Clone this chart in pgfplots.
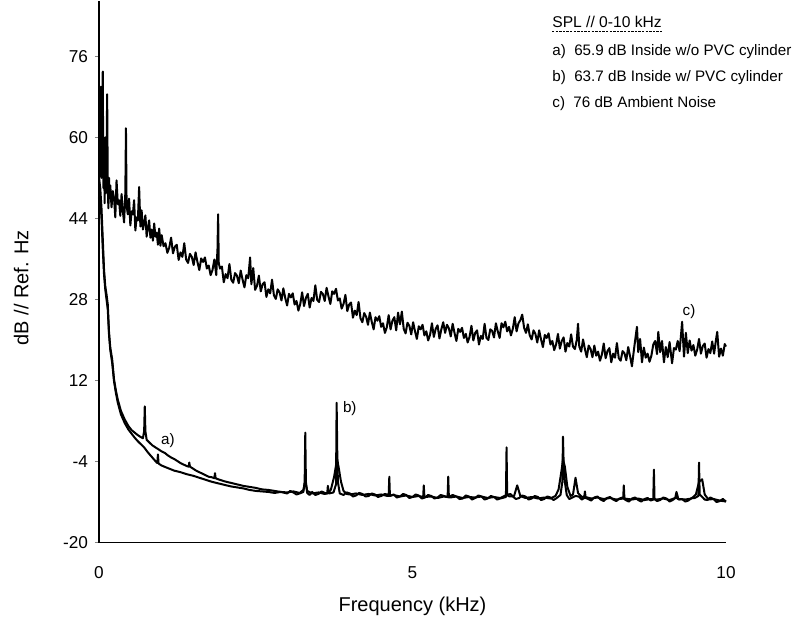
\documentclass[border=0pt]{standalone}
\usepackage{fontspec}
\setmainfont{Liberation Sans}
\usepackage{pgfplots}
\pgfplotsset{compat=1.18}
\begin{document}
\begin{tikzpicture}
\begin{axis}[
  name=ax,
  scale only axis,
  width=313.5pt, height=271pt,
  xmin=0, xmax=10, ymin=-20, ymax=87,
  axis x line*=bottom, axis y line*=left,
  axis line style={line width=0.6pt},
  xtick={0,5,10}, ytick={-20,-4,12,28,44,60,76},
  tick align=outside, major tick length=2pt,
  xtick style={draw=none},
  tick label style={font=\fontsize{8.6}{10}\selectfont},
  /pgf/number format/assume math mode=true,
  xticklabel style={yshift=-6.5pt},
  xlabel={Frequency (kHz)}, ylabel={dB // Ref. Hz},
  label style={font=\fontsize{10}{12}\selectfont},
  xlabel style={at={(axis description cs:0.5,0)},anchor=center,yshift=-32pt},
  ylabel style={at={(axis description cs:-0.124,0.47)},anchor=center},
  clip=false,
  every axis plot/.append style={black, line join=round, mark=none},
]
% c) ambient noise
\addplot[line width=1pt] coordinates {
(0.00,48) (0.01,62) (0.02,55) (0.03,70) (0.04,52) (0.05,66) (0.06,73) (0.07,50)
(0.08,58) (0.09,47) (0.10,60) (0.11,49) (0.12,55) (0.13,68.5) (0.14,50) (0.15,46)
(0.16,52) (0.17,48) (0.18,50.5) (0.20,46.2) (0.22,49.4) (0.24,48) (0.26,44.2) (0.28,51.5)
(0.30,46.8) (0.32,47.6) (0.34,44.5) (0.36,48.8) (0.38,45.5) (0.40,43.2) (0.42,49) (0.43,61.8)
(0.44,46.5) (0.46,44.8) (0.48,47.9) (0.50,42.6) (0.52,45.4) (0.54,44.8) (0.56,47.6) (0.58,41.6)
(0.60,44.2) (0.62,43.6) (0.64,50.2) (0.66,42.4) (0.68,45.6) (0.70,41.8) (0.72,43) (0.74,44.6)
(0.76,40.4) (0.78,42.2) (0.80,43.6) (0.82,40.2) (0.84,41.8) (0.86,39.6) (0.88,43) (0.90,40.4)
(0.92,41.2) (0.94,38.8) (0.96,42) (0.98,38.6)
(1.00,40.7) (1.03,38.5) (1.06,39.1) (1.09,37.2) (1.12,38.2) (1.15,40.2) (1.18,37.1) (1.21,38.4)
(1.24,38.8) (1.27,35.8) (1.30,37.3) (1.33,36.4) (1.36,39.1) (1.39,35.9) (1.42,35.2) (1.45,37)
(1.48,36.4) (1.51,34.8) (1.54,37.3) (1.57,35.4) (1.60,33.8) (1.63,36.1) (1.66,35.4) (1.69,36.3)
(1.72,34.1) (1.75,34.7) (1.78,32.8) (1.81,33.8) (1.84,35.9) (1.87,32.8) (1.89,38) (1.90,44.8)
(1.91,35.2) (1.93,34.1) (1.96,34.5) (1.99,31.4) (2.02,33) (2.05,32.2) (2.08,35) (2.11,31.9)
(2.14,31.3) (2.17,33.2) (2.20,32.7) (2.23,31.2) (2.26,33.7) (2.29,31.9) (2.32,30.4) (2.35,32.8)
(2.38,32.2) (2.41,36.3) (2.43,31) (2.46,34.2) (2.49,29.9) (2.52,30.7) (2.55,32.7) (2.58,29.6)
(2.61,31) (2.64,31.4) (2.67,28.5) (2.70,30) (2.73,29.2) (2.76,31.9) (2.79,28.8) (2.82,28.1)
(2.85,30) (2.88,29.4) (2.91,27.8) (2.94,30.2) (2.97,28.3) (3.00,26.8) (3.03,29.1) (3.06,28.4)
(3.09,29.2) (3.12,27) (3.15,27.7) (3.18,25.8) (3.21,27.1) (3.24,29.4) (3.27,26.7) (3.30,28.3)
(3.33,29.1) (3.36,26.4) (3.39,28.3) (3.42,27.7) (3.45,30.8) (3.48,27.9) (3.51,27.5) (3.54,29.5)
(3.57,29.1) (3.60,27.7) (3.63,30.3) (3.66,28.6) (3.69,27.1) (3.72,29.6) (3.75,29.1) (3.78,30.1)
(3.81,27.8) (3.84,28.2) (3.87,26.2) (3.90,27.1) (3.93,28.9) (3.96,25.7) (3.99,27) (4.02,27.4)
(4.05,24.4) (4.08,25.8) (4.11,24.9) (4.14,27.5) (4.17,24.3) (4.20,23.5) (4.23,25.3) (4.26,24.6)
(4.29,23) (4.32,25.4) (4.35,23.6) (4.38,22.1) (4.41,24.5) (4.44,23.8) (4.47,24.7) (4.50,22.6)
(4.53,23.3) (4.56,21.4) (4.59,22.5) (4.62,24.9) (4.65,22.1) (4.68,23.8) (4.71,24.5) (4.74,21.9)
(4.77,25.4) (4.80,23.1) (4.83,25.6) (4.86,22.2) (4.89,21.3) (4.92,23.4) (4.95,22.8) (4.98,21.1)
(5.01,23.5) (5.04,21.7) (5.07,20.2) (5.10,22.7) (5.13,22.1) (5.16,23) (5.19,20.9) (5.22,21.7)
(5.25,19.9) (5.28,21) (5.31,23.3) (5.34,20.6) (5.37,22.2) (5.40,22.9) (5.43,20.3) (5.46,22.1)
(5.49,23.5) (5.52,21.4) (5.55,23) (5.58,22.3) (5.61,20.7) (5.64,23.2) (5.67,21.4) (5.70,19.8)
(5.73,22.2) (5.76,21.6) (5.79,22.4) (5.82,20.4) (5.85,21.2) (5.88,19.5) (5.91,20.6) (5.94,22.8)
(5.97,19.9) (6.00,21.4) (6.03,21.9) (6.06,19.1) (6.09,20.8) (6.12,20.2) (6.15,23.2) (6.18,20.4)
(6.21,20) (6.24,22.1) (6.27,21.8) (6.30,20.5) (6.33,23.3) (6.36,21.7) (6.39,20.4) (6.42,23.3)
(6.45,22.5) (6.48,23.6) (6.51,21.7) (6.54,22.6) (6.57,20.9) (6.60,22.2) (6.63,24.5) (6.66,21.7)
(6.69,23.3) (6.72,23.9) (6.75,25) (6.78,22.4) (6.81,21.4) (6.84,23.1) (6.87,20.9) (6.90,20.1)
(6.93,21.9) (6.96,21.2) (6.99,19.5) (7.02,21.9) (7.05,20.1) (7.08,18.6) (7.11,21) (7.14,20.4)
(7.17,21.3) (7.20,19.1) (7.23,19.8) (7.26,18) (7.29,19.1) (7.32,21.2) (7.35,18.3) (7.38,19.8)
(7.41,20.5) (7.44,17.7) (7.47,19.4) (7.50,18.7) (7.53,21.1) (7.56,18.7) (7.59,18.2) (7.62,20)
(7.64,23.2) (7.66,18.7) (7.69,17.7) (7.72,20.1) (7.75,18.2) (7.78,16.6) (7.81,18.9) (7.84,18.2)
(7.87,16.6) (7.90,18.9) (7.93,16.9) (7.96,17.7) (7.99,15.9) (8.02,17.1) (8.05,19.3) (8.08,16.4)
(8.11,17.8) (8.14,18.4) (8.17,15.6) (8.20,17.3) (8.23,16.5) (8.26,19.4) (8.29,16.4) (8.32,15.9)
(8.35,17.8) (8.38,17.4) (8.41,16) (8.44,18.6) (8.47,16.8) (8.50,14.8) (8.53,17.9) (8.56,20.8)
(8.58,22.6) (8.60,17.6) (8.63,20.2) (8.66,15.6) (8.69,18.5) (8.72,16.5) (8.75,17.3) (8.78,15.7)
(8.81,16.9) (8.84,19.1) (8.87,19.8) (8.90,17.2) (8.92,21.6) (8.95,17.6) (8.98,19.8) (9.01,15.6)
(9.04,18.6) (9.07,16.6) (9.10,19.6) (9.14,15.4) (9.17,18.4) (9.20,18.1) (9.23,19.8) (9.26,17.8)
(9.28,20.6) (9.30,23.6) (9.33,16.7) (9.36,21.4) (9.39,17.4) (9.42,19.9) (9.45,17.9) (9.48,19)
(9.51,16.9) (9.54,18.1) (9.57,20.2) (9.60,17.3) (9.63,18.8) (9.66,19.3) (9.69,16.5) (9.72,18.2)
(9.75,17.4) (9.78,19.7) (9.81,17.3) (9.84,20) (9.86,21.6) (9.89,16.7) (9.92,18.3) (9.95,16.9)
(9.98,19.2) (10.00,18.7)
};
% a) inside without PVC cylinder
\addplot[line width=1pt] coordinates {
(0.00,52) (0.02,50) (0.04,46) (0.06,40) (0.08,34) (0.10,30.6) (0.12,29) (0.14,27)
(0.16,21.5) (0.18,18.5) (0.21,16.2) (0.24,12.2) (0.27,10) (0.30,8.2) (0.35,6) (0.41,4.3)
(0.47,3) (0.52,2.2) (0.57,1.7) (0.62,1.2) (0.67,0.8) (0.70,0.6) (0.72,2) (0.73,6.9)
(0.74,2) (0.76,0.3) (0.80,-0.2) (0.85,-0.8) (0.90,-1.2) (0.95,-1.6) (1.00,-2) (1.05,-2.3)
(1.10,-2.8) (1.15,-3.2) (1.20,-3.5) (1.25,-3.9) (1.30,-4.3) (1.35,-4.6) (1.40,-4.9) (1.43,-5)
(1.44,-4.2) (1.45,-5) (1.50,-5.4) (1.55,-5.8) (1.60,-6.1) (1.65,-6.4) (1.70,-6.7) (1.75,-7)
(1.80,-7.1) (1.84,-7.3) (1.85,-6.3) (1.86,-7.3) (1.90,-7.5) (1.95,-7.7) (2.00,-7.9) (2.10,-8.2)
(2.20,-8.5) (2.30,-8.8) (2.40,-9) (2.50,-9.2) (2.60,-9.5) (2.70,-9.6) (2.80,-9.8) (2.90,-10)
(3.00,-10.1) (3.10,-9.9) (3.20,-10.2) (3.26,-9.6) (3.29,-7.8) (3.32,-9.8) (3.40,-10.3) (3.50,-10.1)
(3.60,-10.4) (3.66,-10.2) (3.70,-9.5) (3.75,-7) (3.79,-4) (3.80,-3.6) (3.82,-5) (3.86,-8)
(3.90,-9.8) (3.95,-10.4) (4.00,-10.5) (4.10,-10.3) (4.20,-10.6) (4.30,-10.4) (4.40,-10.7) (4.50,-10.5)
(4.60,-10.8) (4.70,-10.6) (4.80,-10.9) (4.90,-10.7) (5.00,-11) (5.10,-10.8) (5.17,-11) (5.18,-8.7)
(5.19,-11) (5.30,-10.9) (5.40,-11.2) (5.50,-10.9) (5.60,-11.1) (5.70,-10.9) (5.80,-11.2) (5.90,-11)
(6.00,-11.1) (6.10,-10.9) (6.20,-11.2) (6.30,-11) (6.40,-11.2) (6.50,-10.6) (6.55,-10.9) (6.62,-10.8)
(6.67,-8.7) (6.72,-10.8) (6.80,-11.2) (6.90,-11) (7.00,-11.3) (7.10,-11.1) (7.20,-11.3) (7.28,-10.8)
(7.33,-9.5) (7.38,-5.5) (7.40,-3.6) (7.43,-5) (7.47,-9) (7.52,-10.8) (7.56,-10.5) (7.60,-7.2)
(7.64,-10.2) (7.70,-11) (7.74,-10.9) (7.75,-9.9) (7.76,-11) (7.85,-11.3) (7.95,-11.1) (8.05,-11.4)
(8.15,-11.2) (8.25,-11.5) (8.36,-11.3) (8.37,-8.7) (8.38,-11.3) (8.50,-11.5) (8.60,-11.3) (8.70,-11.6)
(8.80,-11.4) (8.90,-11.5) (9.00,-11.3) (9.10,-11.6) (9.19,-11.2) (9.21,-10) (9.24,-11.4) (9.35,-11.5)
(9.45,-11.3) (9.52,-10.5) (9.57,-8) (9.62,-7.5) (9.66,-10.5) (9.72,-11.5) (9.80,-11.4) (9.90,-11.7)
(10.00,-11.9)
};
% b) inside with PVC cylinder
\addplot[line width=1pt] coordinates {
(0.00,50) (0.02,48) (0.04,44) (0.06,38) (0.08,33) (0.10,30) (0.12,28) (0.14,26)
(0.16,21) (0.18,18) (0.21,15.5) (0.24,11.8) (0.27,9.5) (0.30,7.6) (0.35,5.3) (0.41,3.6)
(0.47,2.3) (0.52,1.5) (0.57,0.7) (0.62,0) (0.67,-0.6) (0.72,-1.2) (0.78,-2.2) (0.85,-3.2)
(0.92,-4.2) (0.93,-4.3) (0.94,-2.6) (0.95,-4.4) (1.00,-4.8) (1.10,-5.3) (1.20,-5.8) (1.30,-6.1)
(1.40,-6.5) (1.50,-6.8) (1.60,-7.2) (1.70,-7.6) (1.80,-8) (1.90,-8.3) (2.00,-8.6) (2.10,-8.9)
(2.20,-9.1) (2.30,-9.3) (2.40,-9.6) (2.50,-9.8) (2.60,-9.9) (2.70,-10) (2.80,-10.2) (2.90,-10)
(3.00,-10.3) (3.05,-9.8) (3.10,-10.1) (3.15,-10.5) (3.20,-10.3) (3.26,-10) (3.28,-8) (3.29,1.7)
(3.30,-8) (3.32,-10.2) (3.36,-10.6) (3.40,-10) (3.45,-10.6) (3.50,-10.4) (3.55,-9.9) (3.60,-10.2)
(3.64,-10.3) (3.65,-8.8) (3.67,-10.3) (3.74,-10.1) (3.78,-8.5) (3.79,7.6) (3.80,-2) (3.81,-8)
(3.84,-10.3) (3.90,-10.6) (3.95,-10.1) (4.00,-10.3) (4.05,-10.9) (4.10,-10.7) (4.15,-10.2) (4.20,-10.4)
(4.25,-10.9) (4.30,-10.8) (4.35,-10.3) (4.40,-10.5) (4.45,-11) (4.50,-10.8) (4.56,-10.4) (4.62,-10.6)
(4.63,-7) (4.64,-10.8) (4.70,-10.5) (4.75,-11.1) (4.80,-10.9) (4.85,-10.4) (4.90,-10.6) (4.95,-11.2)
(5.00,-11) (5.05,-10.5) (5.10,-10.7) (5.15,-11.3) (5.20,-11.1) (5.25,-10.6) (5.30,-10.8) (5.35,-11.3)
(5.40,-11.1) (5.45,-10.6) (5.50,-10.8) (5.56,-11) (5.57,-7) (5.58,-11) (5.64,-10.6) (5.70,-10.9)
(5.75,-11.4) (5.80,-11.3) (5.85,-10.7) (5.90,-10.9) (5.95,-11.5) (6.00,-11.2) (6.05,-10.7) (6.10,-10.9)
(6.15,-11.5) (6.20,-11.3) (6.25,-10.8) (6.30,-11) (6.35,-11.5) (6.40,-11.3) (6.49,-11) (6.50,-1.2)
(6.51,-10.6) (6.56,-10.4) (6.60,-10.9) (6.65,-11.4) (6.70,-11.2) (6.75,-10.7) (6.80,-10.9) (6.85,-11.5)
(6.90,-11.3) (6.95,-10.8) (7.00,-11) (7.05,-11.6) (7.10,-11.4) (7.15,-10.9) (7.20,-11.1) (7.25,-11.6)
(7.30,-11.2) (7.36,-10.6) (7.39,-8) (7.40,0.9) (7.41,-4) (7.43,-8) (7.46,-10.6) (7.50,-11.4)
(7.55,-11.1) (7.60,-10.8) (7.65,-10.9) (7.70,-11.5) (7.75,-11.1) (7.80,-11.4) (7.85,-11.7) (7.90,-11.1)
(7.95,-10.9) (8.00,-11.5) (8.05,-11.8) (8.10,-11.2) (8.15,-11) (8.20,-11.5) (8.25,-11.8) (8.30,-11.3)
(8.35,-11.1) (8.40,-11.6) (8.45,-11.9) (8.50,-11.3) (8.55,-11.1) (8.60,-11.6) (8.65,-11.9) (8.70,-11.4)
(8.75,-11.2) (8.80,-11.7) (8.84,-11.5) (8.85,-5.6) (8.86,-11.4) (8.90,-11.8) (8.95,-11.6) (9.00,-11.1)
(9.05,-11.3) (9.10,-11.9) (9.15,-11.6) (9.20,-11.1) (9.25,-11.5) (9.30,-11.4) (9.35,-11.9) (9.40,-11.7)
(9.45,-11.2) (9.50,-11.2) (9.56,-10.8) (9.57,-4.2) (9.58,-10.5) (9.62,-11) (9.66,-11.5) (9.70,-11.6)
(9.75,-11.1) (9.80,-11.4) (9.85,-12) (9.90,-11.8) (9.95,-11.4) (10.00,-11.9)
};
% curve labels
\node[font=\fontsize{7.6}{9}\selectfont] at (axis cs:1.10,0.2) {a)};
\node[font=\fontsize{7.6}{9}\selectfont] at (axis cs:4.00,6.5) {b)};
\node[font=\fontsize{7.6}{9}\selectfont] at (axis cs:9.41,25.6) {c)};
% key
\node[anchor=base west, inner sep=0pt, font=\fontsize{7.8}{9}\selectfont] (ttl)
  at (axis description cs:0.7225,0.950) {SPL // 0-10 kHz};
\draw[line width=0.4pt, dash pattern=on 1.2pt off 0.6pt]
  ([yshift=-2pt]ttl.base west) -- ([yshift=-2pt]ttl.base east);
\node[anchor=base west, inner sep=0pt, font=\fontsize{7.6}{9}\selectfont]
  at (axis description cs:0.7225,0.8985) {a)\hspace{0.55em}65.9 dB Inside w/o PVC cylinder};
\node[anchor=base west, inner sep=0pt, font=\fontsize{7.6}{9}\selectfont]
  at (axis description cs:0.7225,0.8506) {b)\hspace{0.55em}63.7 dB Inside w/ PVC cylinder};
\node[anchor=base west, inner sep=0pt, font=\fontsize{7.6}{9}\selectfont]
  at (axis description cs:0.7225,0.8026) {c)\hspace{0.55em}76 dB Ambient Noise};
\end{axis}
\path ([shift={(-49.5pt,-40pt)}]ax.south west) rectangle ([shift={(33pt,0pt)}]ax.north east);
\end{tikzpicture}
\end{document}
